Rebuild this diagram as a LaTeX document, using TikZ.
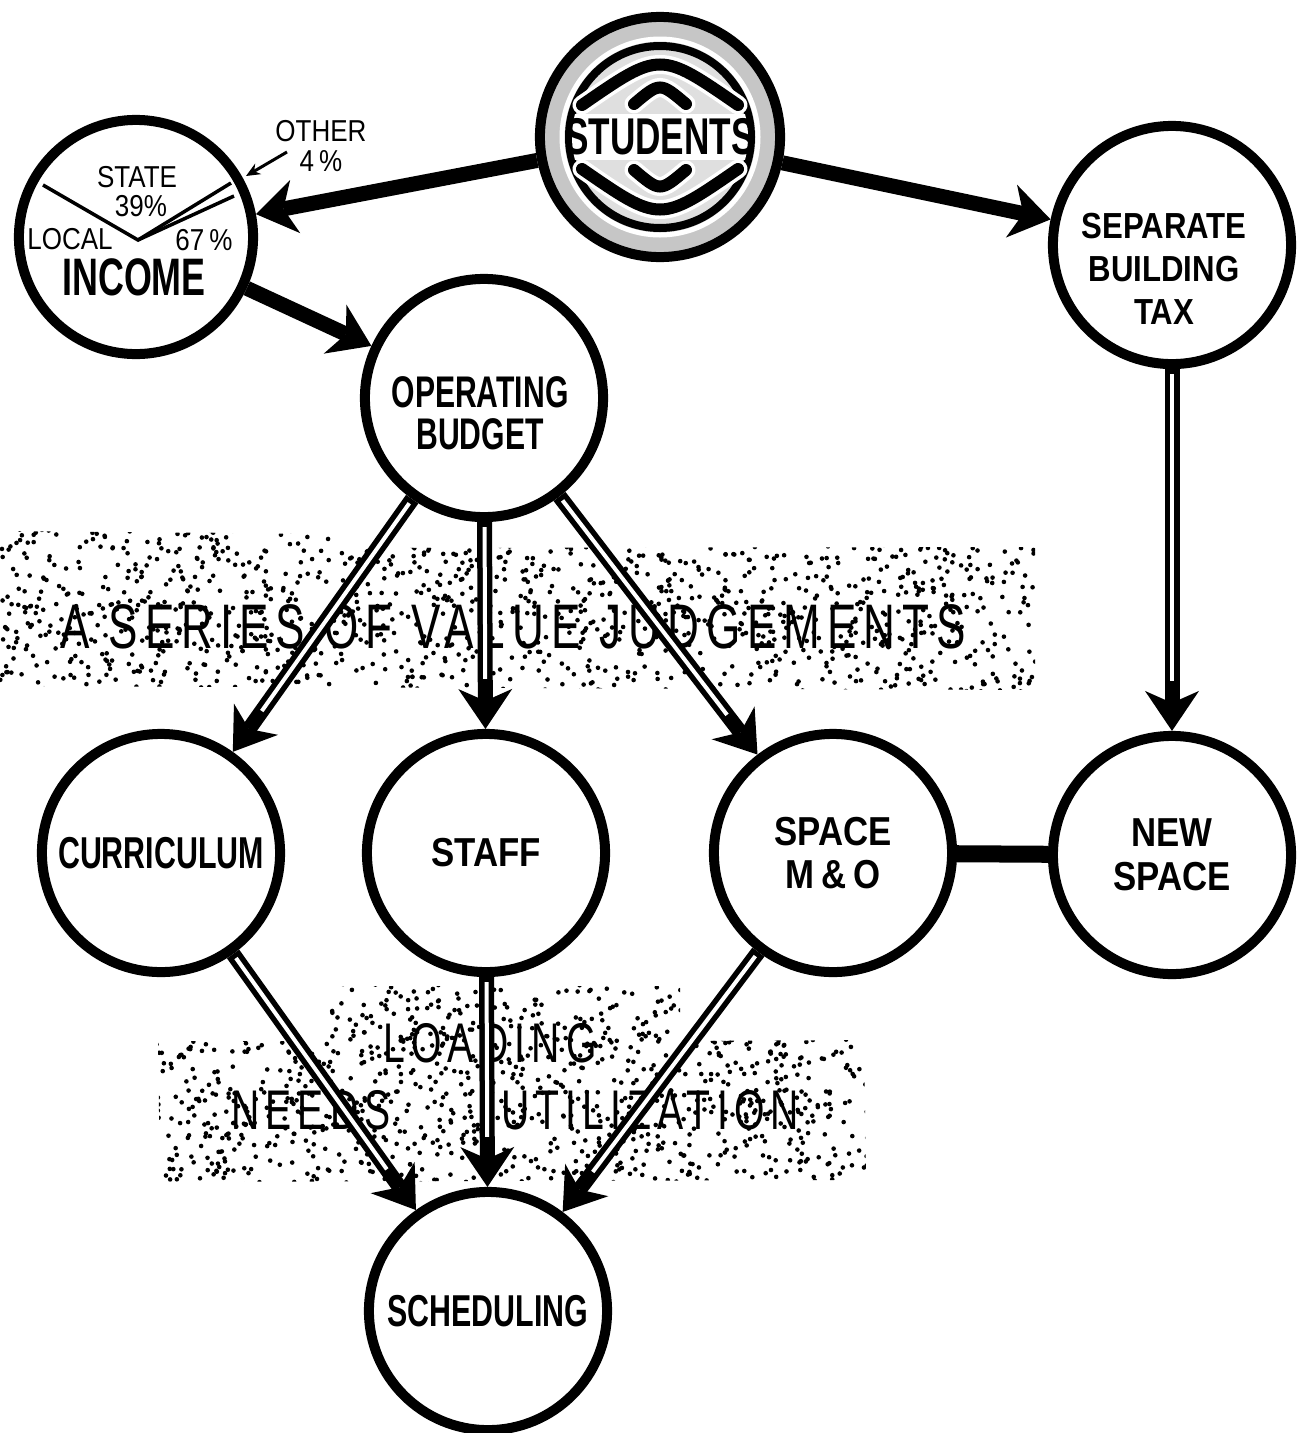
\documentclass[tikz,border=0pt]{standalone}
\usepackage{fontspec}
\setmainfont{Liberation Sans}
\newfontfamily\condfont{Liberation Sans}[FakeStretch=0.68]
\newfontfamily\widefont{Liberation Sans}[FakeStretch=0.86]
\newfontfamily\bannerfont{Liberation Sans}[FakeStretch=0.7,LetterSpace=11]
\usetikzlibrary{arrows.meta}

\tikzset{
  ring/.style={circle, draw, line width=1mm, fill=white, inner sep=0pt, minimum size=2.38cm, align=center},
  ringc/.style={ring, font=\condfont\bfseries\fontsize{12.7}{12}\selectfont},
  ringw/.style={ring, font=\widefont\bfseries\fontsize{11.5}{12.4}\selectfont},
  lblc/.style={inner sep=0pt, align=center, font=\condfont\bfseries\fontsize{12.6}{12}\selectfont},
  lblw/.style={inner sep=0pt, align=center, font=\widefont\bfseries\fontsize{10.3}{12.2}\selectfont},
  pielbl/.style={inner sep=0pt, align=center, font=\widefont\fontsize{8.6}{8.3}\selectfont},
  banner/.style={inner sep=0pt, font=\bannerfont\fontsize{17.9}{18}\selectfont},
  banner2/.style={inner sep=0pt, font=\bannerfont\fontsize{15.9}{16}\selectfont},
  flow/.style={line width=1.5mm, -{Stealth[length=4mm,width=5.4mm,inset=1.2mm,line width=0pt]}},
  core/.style={white, line width=0.4mm, shorten >=5mm, shorten <=0.5mm},
  tie/.style={line width=1.7mm},
  pie/.style={line width=0.35mm},
  pointer/.style={line width=0.3mm, -{Stealth[length=1.4mm,width=1.2mm]}},
  emblem/.style={draw=white, double=black, line width=0.35mm, double distance=1.2mm, line cap=round}
}

\begin{document}
\begin{tikzpicture}[x=0.01cm,y=-0.01cm]
\useasboundingbox (0,0) rectangle (1301,1433);

\pgfmathsetseed{11}
\begin{scope}
  \clip (0,531) -- (330,534) -- (336,548) -- (1035,547) -- (1035,690) -- (0,686) -- cycle;
  \foreach \i in {1,...,1300} \fill ({rnd*1040},{525+rnd*170}) circle (2.3);
\end{scope}
\begin{scope}
  \clip (322,986) -- (680,986) -- (680,1041) -- (864,1040) -- (866,1180) -- (160,1182) -- (158,1041) -- (322,1041) -- cycle;
  \foreach \i in {1,...,1150} \fill ({155+rnd*715},{982+rnd*205}) circle (2.3);
\end{scope}

\node[banner] (vj) at (513,627) {A SERIES OF VALUE JUDGEMENTS};
\node[banner2] (load) at (490,1043) {LOADING};
\node[banner2] (needs) at (311,1110) {NEEDS};
\node[banner2] (util) at (650,1110) {UTILIZATION};

% students emblem
\node[ring, fill=gray!45, minimum size=2.4cm] (stu) at (660,137) {};
\begin{scope}[shift={(stu.center)}]
  \draw[white, line width=0.5mm] (0,0) circle (98);
  \draw[line width=0.8mm, fill=gray!25] (0,0) circle (91);
  \begin{scope}
    \clip (0,0) circle (88);
    \fill[white] (-100,-23) rectangle (100,23);
  \end{scope}
  \draw[emblem] (-78,-32) .. controls (0,-86) .. (78,-32);
  \draw[emblem] (-26,-33) .. controls (0,-55) .. (26,-33);
  \draw[emblem] (-78,32) .. controls (0,86) .. (78,32);
  \draw[emblem] (-26,33) .. controls (0,55) .. (26,33);
\end{scope}
\node[inner sep=0pt, font=\condfont\bfseries\fontsize{14.7}{15}\selectfont] (stutxt) at (stu) {STUDENTS};

% income pie
\node[ring, minimum size=2.34cm] (inc) at (136,237) {};
\coordinate (pv) at (138,240);
\draw[pie] (43,185) -- (pv) -- (231,183);
\draw[pie] (pv) -- (234,196);
\node[pielbl] (state) at (137,177) {STATE};
\node[pielbl] (p39) at (141,206) {39\%};
\node[pielbl] (local) at (70,239) {LOCAL};
\node[pielbl] (p67) at (204,240) {67\,\%};
\node[inner sep=0pt, font=\condfont\bfseries\fontsize{15}{15}\selectfont] (inctxt) at (134,277) {INCOME};
\node[pielbl] (oth) at (321,146) {OTHER\\4\,\%};
\coordinate (othfrom) at (287,152);
\coordinate (othto) at (246,176);
\draw[pointer] (othfrom) -- (othto);

\node[ring] (sep) at (1172,245) {};
\node[lblw] (septxt) at (1164,269) {SEPARATE\\BUILDING\\TAX};
\node[ring] (bud) at (484,398) {};
\node[lblc] (budtxt) at (480,413) {OPERATING\\BUDGET};
\node[ringc] (cur) at (161,853) {CURRICULUM};
\node[ringw] (sta) at (486,853) {STAFF};
\node[ringw] (spa) at (833,853) {SPACE\\M\,\&\,O};
\node[ringw] (new) at (1172,855) {NEW\\SPACE};
\node[ringc] (sch) at (488,1311) {SCHEDULING};

\path (stu) edge[flow] (inc)
            edge[flow] (sep);
\path (inc) edge[flow] (bud);
\path (bud) edge[flow] (cur)
            edge[flow] (sta)
            edge[flow] (spa);
\path (sep) edge[flow] (new);
\path (cur) edge[flow] (sch);
\path (sta) edge[flow] (sch);
\path (spa) edge[flow] (sch);
\path (bud) edge[core] (cur)
            edge[core] (sta)
            edge[core] (spa);
\path (sep) edge[core] (new);
\path (cur) edge[core] (sch);
\path (sta) edge[core] (sch);
\path (spa) edge[core] (sch);
\draw[tie] (spa) -- (new);
\end{tikzpicture}
\end{document}
